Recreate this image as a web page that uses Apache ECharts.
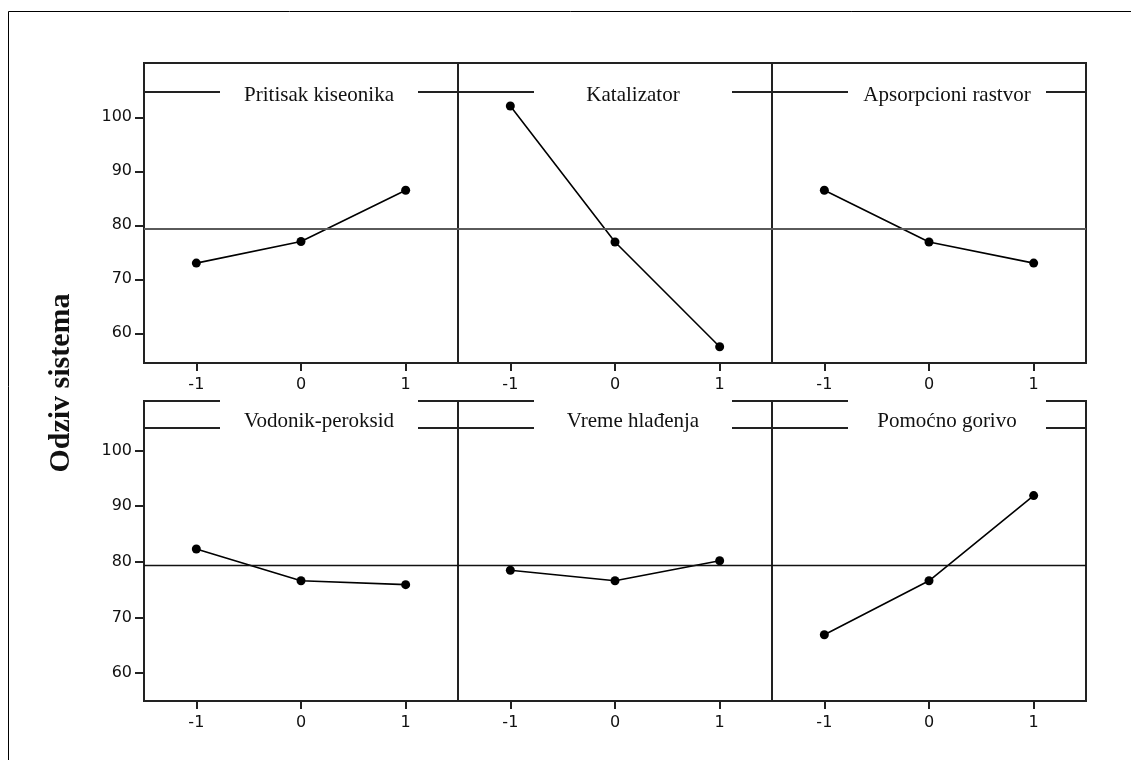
<!DOCTYPE html>
<html>
<head>
<meta charset="utf-8">
<script src="https://cdn.jsdelivr.net/npm/echarts@6/dist/echarts.min.js"></script>
<style>html,body{margin:0;padding:0;background:#fff}#c{width:1131px;height:760px}</style>
</head>
<body>
<div id="c"></div>
<script>
// ---- data ----
const factors = ['Pritisak kiseonika', 'Katalizator', 'Apsorpcioni rastvor',
                 'Vodonik-peroksid', 'Vreme hlađenja', 'Pomoćno gorivo'];
const levels = [-1, 0, 1];
const pritisakKiseonika = [73.0, 77.0, 86.5];
const katalizator = [102.1, 76.9, 57.5];
const apsorpcioniRastvor = [86.5, 76.9, 73.0];
const vodonikPeroksid = [82.3, 76.6, 75.9];
const vremeHladjenja = [78.5, 76.6, 80.2];
const pomocnoGorivo = [66.9, 76.6, 91.9];
const grandMean = 79.3;
const yTicks = [60, 70, 80, 90, 100];
const xTicks = [-1, 0, 1];
const yTitle = 'Odziv sistema';

const seriesValues = [pritisakKiseonika, katalizator, apsorpcioniRastvor,
                      vodonikPeroksid, vremeHladjenja, pomocnoGorivo];

// ---- layout ----
const colLeft = [144, 458, 772];
const colW = 314;
const rowTop = [63, 401];
const rowH = 300;
const rowRange = [[54.5, 110.06], [55.0, 108.9]];
const stripY = [92, 428];
const meanStyle = [{color: '#5a5a5a', width: 2}, {color: '#111', width: 1.3}];
const labelFont = '"DejaVu Sans", sans-serif';

const grids = [], xAxes = [], yAxes = [], series = [], graphics = [];

graphics.push({type: 'rect', z: 100, silent: true,
  shape: {x: 8.5, y: 11.5, width: 1300, height: 900},
  style: {fill: 'none', stroke: '#000', lineWidth: 1}});

for (let r = 0; r < 2; r++) {
  graphics.push({type: 'line', z: 90, silent: true,
    shape: {x1: colLeft[0], y1: stripY[r], x2: colLeft[2] + colW + 1, y2: stripY[r]},
    style: {stroke: '#222', lineWidth: 2}});
}

for (let i = 0; i < 6; i++) {
  const r = Math.floor(i / 3), c = i % 3;
  grids.push({left: colLeft[c], top: rowTop[r], width: colW, height: rowH,
    show: true, borderColor: '#222', borderWidth: 2, backgroundColor: 'transparent'});
  xAxes.push({type: 'value', gridIndex: i, min: -1.5, max: 1.5, position: 'bottom',
    axisLine: {show: false, onZero: false}, splitLine: {show: false},
    axisTick: {show: true, customValues: xTicks, length: 8, lineStyle: {color: '#222', width: 2}},
    axisLabel: {show: true, customValues: xTicks, margin: 14, color: '#111',
      fontFamily: labelFont, fontSize: 16}});
  yAxes.push({type: 'value', gridIndex: i, min: rowRange[r][0], max: rowRange[r][1], position: 'left',
    axisLine: {show: false, onZero: false}, splitLine: {show: false},
    axisTick: {show: c === 0, customValues: yTicks, length: 9, lineStyle: {color: '#222', width: 2}},
    axisLabel: {show: c === 0, customValues: yTicks, margin: 12, color: '#111',
      fontFamily: labelFont, fontSize: 16}});
  series.push({type: 'line', xAxisIndex: i, yAxisIndex: i,
    data: levels.map((x, k) => [x, seriesValues[i][k]]),
    symbol: 'circle', symbolSize: 9, animation: false,
    itemStyle: {color: '#000'}, lineStyle: {color: '#000', width: 1.6},
    markLine: {silent: true, symbol: 'none', animation: false,
      label: {show: false},
      lineStyle: {color: meanStyle[r].color, width: meanStyle[r].width, type: 'solid'},
      data: [{yAxis: grandMean}]}});

  const cx = colLeft[c] + colW / 2 + 18;
  if (r === 1) {
    graphics.push({type: 'rect', z: 95, silent: true,
      shape: {x: cx - 99, y: 399, width: 198, height: 36},
      style: {fill: '#fff'}});
    graphics.push({type: 'text', z: 96, silent: true, x: cx, y: 421,
      style: {text: factors[i], fill: '#111', align: 'center', verticalAlign: 'middle',
        font: '21px "Liberation Serif", "Times New Roman", serif'}});
  } else {
    graphics.push({type: 'rect', z: 95, silent: true,
      shape: {x: cx - 99, y: 80, width: 198, height: 26},
      style: {fill: '#fff'}});
    graphics.push({type: 'text', z: 96, silent: true, x: cx, y: 95,
      style: {text: factors[i], fill: '#111', align: 'center', verticalAlign: 'middle',
        font: '21px "Liberation Serif", "Times New Roman", serif'}});
  }
}

graphics.push({type: 'text', z: 96, silent: true, x: 61, y: 383, rotation: Math.PI / 2,
  style: {text: yTitle, fill: '#111', align: 'center', verticalAlign: 'middle',
    font: 'bold 30px "Liberation Serif", "Times New Roman", serif'}});

const chart = echarts.init(document.getElementById('c'), null, {renderer: 'canvas'});
chart.setOption({
  animation: false,
  backgroundColor: '#fff',
  grid: grids, xAxis: xAxes, yAxis: yAxes, series: series,
  graphic: graphics
});
</script>
</body>
</html>
